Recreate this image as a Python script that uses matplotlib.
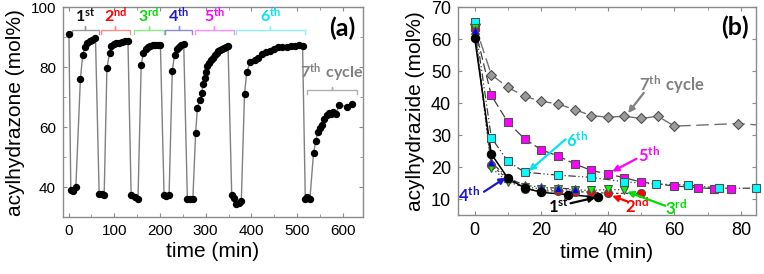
import matplotlib
matplotlib.use('Agg')
import matplotlib.pyplot as plt
import numpy as np

plt.rcParams['font.family'] = ['Liberation Sans', 'DejaVu Sans']
plt.rcParams['mathtext.fontset'] = 'custom'
plt.rcParams['mathtext.bf'] = 'Lato:bold'
plt.rcParams['mathtext.rm'] = 'Lato'

# ---------------- Panel (a) data: cycles of acylhydrazone ----------------
t_c1 = [1, 5, 10, 16, 26, 31, 36, 41, 46, 52, 59]
y_c1 = [91, 39, 38.6, 40, 76, 84, 86.6, 88, 88.7, 89.2, 89.8]
t_c2 = [67, 73, 78, 84, 90, 94, 99, 104, 110, 117, 124, 130]
y_c2 = [37.7, 37.7, 37.4, 79.6, 84.8, 87, 87.6, 87.9, 88.1, 88.4, 88.7, 88.8]
t_c3 = [137, 146, 152, 159, 164, 170, 174, 179, 185, 190, 195, 201]
y_c3 = [37.4, 36.8, 36.1, 80.7, 84.8, 86.2, 86.8, 87.1, 87.3, 87.3, 87.4, 87.4]
t_c4 = [209, 214, 220, 227, 232, 237, 242, 247, 252]
y_c4 = [37.4, 37.1, 37.4, 78.8, 84, 85.9, 86.8, 87.3, 87.8]
t_c5 = [260, 266, 272, 278, 282, 287, 291, 295, 298, 301, 304, 308, 312, 316,
        320, 324, 328, 332, 336, 340, 344, 349]
y_c5 = [35.9, 36.1, 36.1, 57.9, 66.4, 69, 71.3, 74.5, 76.5, 78.5, 80.2, 81.3,
        82.3, 83.1, 83.9, 84.7, 85.3, 85.8, 86.2, 86.5, 86.8, 87]
t_c6 = [357, 362, 367, 373, 378, 385, 390, 398, 407, 415, 424, 433, 441, 450,
        459, 468, 477, 486, 495, 505, 512]
y_c6 = [37.4, 36.2, 34.3, 34.8, 35.2, 71.1, 78.4, 81.8, 82.4, 83, 84.3, 85,
        85.4, 85.9, 86.8, 86.8, 86.8, 87, 87.2, 87.5, 87.2]
t_c7 = [518, 522, 528, 536, 541, 545, 550, 555, 559, 565, 570, 574, 579, 586,
        591, 610, 621]
y_c7 = [35.9, 36.7, 35.9, 51.4, 55.4, 58.2, 59.6, 60.6, 62.6, 64.1, 64.6,
        64.3, 65, 64.3, 67.4, 66.8, 67.7]

cycle_labels = ['1', '2', '3', '4', '5', '6']
cycle_sups = ['st', 'nd', 'rd', 'th', 'th', 'th']
cycle_spans = [(8, 66), (70, 135), (143, 208), (212, 270), (276, 361), (366, 517)]
cycle_colors = ['#111111', '#ff0000', '#00dd00', '#1a1acc', '#ff00ff', '#00e5ee']
bracket_colors = ['#999999', '#ff8c8c', '#8ce88c', '#8c8cdd', '#ff8cff', '#8cf2f6']

# ---------------- Panel (b) data: acylhydrazide ----------------
t_b1 = [0, 5, 10, 15, 20, 28, 37]
y_b1 = [60.3, 24.1, 16.5, 13.5, 12.1, 11.4, 10.6]
t_b2 = [0, 5, 10, 15, 20, 25, 30, 35, 40, 50]
y_b2 = [63.2, 20.6, 16.2, 13.2, 12.5, 12.6, 12.3, 12.2, 11.8, 11.8]
t_b3 = [0, 5, 10, 15, 20, 25, 30, 35, 40, 45]
y_b3 = [63.5, 19.8, 15.3, 13.8, 13.2, 13.0, 12.9, 12.7, 13.0, 12.9]
t_b4 = [0, 5, 10, 15, 20, 25, 30]
y_b4 = [62.8, 21.5, 16.6, 14.3, 13.7, 13.4, 13.2]
t_b5 = [0, 5, 10, 15, 20, 25, 30, 35, 40, 45, 50, 60, 67, 72, 77]
y_b5 = [63.8, 42.4, 34, 28.8, 25.4, 23.5, 21, 19, 17.8, 16.7, 15.3, 14.1,
        13.6, 13.2, 13.1]
t_b6 = [0, 5, 10, 15, 25, 35, 45, 54.5, 64, 73.5, 84.5]
y_b6 = [65.5, 29.2, 21.8, 18.4, 17.5, 16.8, 15.4, 14.7, 14.4, 13.4, 13.4]
t_b7 = [0, 5, 10, 15, 20, 25, 30, 35, 40, 45, 50, 55, 60, 79, 95]
y_b7 = [64.7, 48.9, 44.9, 42.1, 40.6, 39.7, 38, 36.1, 35.6, 35.9, 35.2, 35.9,
        32.8, 33.6, 32.5]

fig = plt.figure(figsize=(7.64, 2.74), dpi=100)
axa = fig.add_axes([0.0825, 0.208, 0.3925, 0.766])
axb = fig.add_axes([0.5995, 0.215, 0.390, 0.759])

for ax, ls in ((axa, 11), (axb, 13)):
    for s in ax.spines.values():
        s.set_color('#8a8a8a')
        s.set_linewidth(1.0)
    ax.tick_params(which='both', direction='in', top=True, right=True,
                   color='#8a8a8a', labelsize=ls, pad=5)
    ax.tick_params(which='major', length=3)
    ax.tick_params(which='minor', length=2)

# ---- Panel (a)
t_all = np.concatenate([t_c1, t_c2, t_c3, t_c4, t_c5, t_c6, t_c7])
y_all = np.concatenate([y_c1, y_c2, y_c3, y_c4, y_c5, y_c6, y_c7])
axa.plot(t_all, y_all, '-', color='#808080', lw=1.0, zorder=2)
axa.plot(t_all, y_all, 'o', color='black', ms=4.3, zorder=3)
axa.set_xlim(-12, 644)
axa.set_ylim(30, 100)
axa.set_xticks([0, 100, 200, 300, 400, 500, 600])
axa.set_xticks(np.arange(50, 650, 100), minor=True)
axa.set_yticks([40, 60, 80, 100])
axa.set_yticks([50, 70, 90], minor=True)
axa.set_xlabel('time (min)', fontsize=15, labelpad=3)
axa.set_ylabel('acylhydrazone (mol%)', fontsize=15, labelpad=4)

def bracket(ax, x0, x1, ytop, color):
    xm = 0.5 * (x0 + x1)
    ax.plot([x0, x0, xm, xm, xm, x1, x1],
            [ytop - 1.2, ytop, ytop, ytop + 1.3, ytop, ytop, ytop - 1.2],
            color=color, lw=1.0, zorder=1)

for lab, sup, (x0, x1), c, bc in zip(cycle_labels, cycle_sups, cycle_spans,
                                     cycle_colors, bracket_colors):
    bracket(axa, x0, x1, 92.3, bc)
    axa.text(0.5 * (x0 + x1), 94.2, r'$\mathbf{%s^{%s}}$' % (lab, sup),
             color=c, fontsize=11.5, ha='center', va='bottom')
bracket(axa, 521, 632, 72.2, '#b0b0b0')
axa.text(576, 74.3, r'$\mathbf{7^{th}\ cycle}$', color='#808080', fontsize=11.5,
         ha='center', va='bottom')
axa.text(598, 93, '(a)', fontsize=18, fontweight='bold', family='Lato',
         ha='center', va='center')

# ---- Panel (b)
lc = '#404040'
axb.plot(t_b7, y_b7, color='#707070', lw=1.0, dashes=(9, 4), zorder=2)
axb.plot(t_b5, y_b5, color=lc, lw=0.9, dashes=(7, 3), zorder=2)
axb.plot(t_b6, y_b6, color=lc, lw=0.9, dashes=(6, 2, 1, 2, 1, 2), zorder=2)
axb.plot(t_b4, y_b4, color=lc, lw=0.9, dashes=(5, 2, 1, 2), zorder=2)
axb.plot(t_b3, y_b3, color=lc, lw=0.9, dashes=(1, 2), zorder=2)
axb.plot(t_b2, y_b2, color=lc, lw=0.9, dashes=(2, 2), zorder=2)
axb.plot(t_b1, y_b1, color='black', lw=1.1, zorder=2)

mk = dict(ls='none', mec='#505050', mew=0.8, zorder=3)
axb.plot(t_b7, y_b7, 'D', mfc='#9a9a9a', ms=5.6, **mk)
axb.plot(t_b5, y_b5, 's', mfc='#ff00ff', ms=5.4, **mk)
axb.plot(t_b6, y_b6, 's', mfc='#00ffff', ms=5.4, clip_on=False, **mk)
axb.plot(t_b2, y_b2, 'o', mfc='#ff0000', ms=5.8, **mk)
axb.plot(t_b3, y_b3, 'v', mfc='#00ff00', ms=5.8, **mk)
axb.plot(t_b4, y_b4, '^', mfc='#0000ff', ms=5.8, **mk)
axb.plot(t_b1, y_b1, 'o', mfc='black', mec='black', ms=5.8, ls='none', zorder=3)

axb.set_xlim(-5, 84.5)
axb.set_ylim(5, 70)
axb.set_xticks([0, 20, 40, 60, 80])
axb.set_xticks([10, 30, 50, 70], minor=True)
axb.set_yticks([10, 20, 30, 40, 50, 60, 70])
axb.set_xlabel('time (min)', fontsize=15, labelpad=3)
axb.set_ylabel('acylhydrazide (mol%)', fontsize=15, labelpad=4)

def note(ax, txt, head, tail, textpos, color):
    ax.annotate('', xy=head, xytext=tail,
                arrowprops=dict(arrowstyle='-|>', color=color, lw=1.6,
                                mutation_scale=9, shrinkA=0, shrinkB=0))
    ax.text(textpos[0], textpos[1], r'$\mathbf{%s}$' % txt, color=color,
            fontsize=12, ha='center', va='center')

note(axb, r'7^{th}\ cycle', (46.1, 36.9), (50.8, 43.2), (59.3, 45.6), '#808080')
note(axb, r'6^{th}', (16.3, 18.8), (27.3, 28.7), (30.9, 28.3), '#00e5ee')
note(axb, r'5^{th}', (41.3, 18.6), (48.6, 22.6), (52.3, 23.6), '#ff00ff')
note(axb, r'4^{th}', (9.3, 16.7), (2.8, 12.3), (-1.7, 11.2), '#1a1acc')
note(axb, r'1^{st}', (36.3, 10.5), (28.8, 8.7), (25.3, 7.5), 'black')
note(axb, r'2^{nd}', (41.3, 11.0), (45.8, 9.3), (48.8, 7.9), '#ff0000')
note(axb, r'3^{rd}', (45.8, 12.3), (57.3, 7.9), (60.5, 7.2), '#00dd00')
axb.text(78.3, 63.8, '(b)', fontsize=18, fontweight='bold', family='Lato',
         ha='center', va='center')

fig.savefig('out.png', dpi=100)
